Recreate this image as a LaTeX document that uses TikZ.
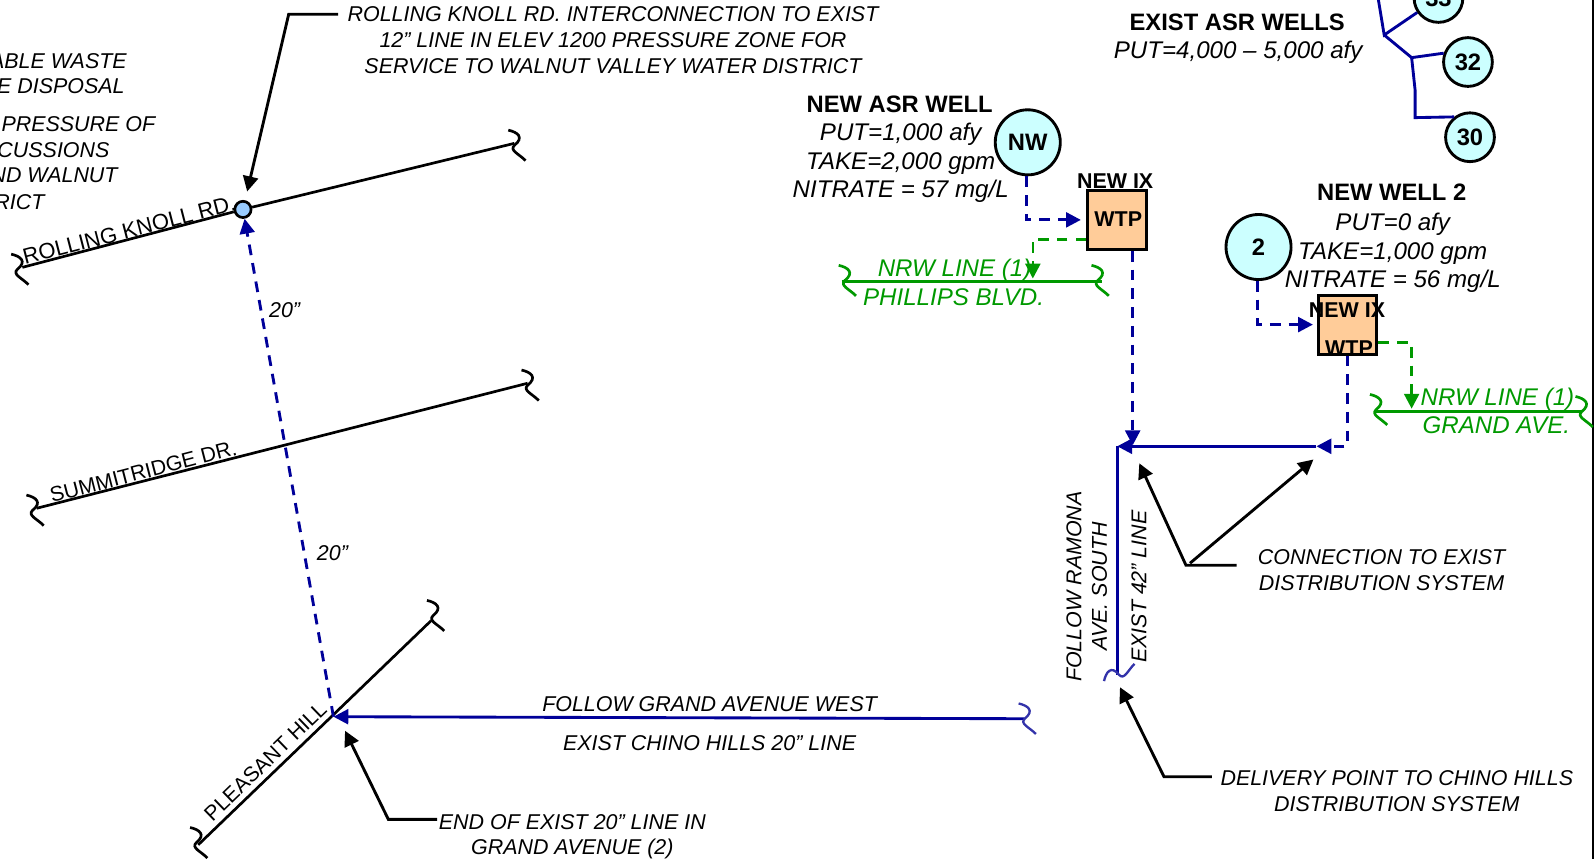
\documentclass[tikz,border=0pt]{standalone}
\usepackage{fontspec}
\setmainfont{Liberation Sans}
\usepackage{tikz}
\usetikzlibrary{arrows.meta, calc}
\definecolor{pipenavy}{RGB}{0, 0, 153}
\definecolor{breaknavy}{RGB}{51, 51, 170}
\definecolor{nrwgreen}{RGB}{0, 153, 0}
\definecolor{wellcyan}{RGB}{204, 255, 255}
\definecolor{wtporange}{RGB}{255, 204, 153}
\definecolor{jointblue}{RGB}{153, 204, 255}
\tikzset{
    breakmark/.pic={\draw[pic actions] (-6,-13) .. controls (3,-11) and (10,-6) .. (0,2) .. controls (-5,7) and (4,10) .. (11,17);},
    roadline/.style={line width=1.5pt, black},
    leader/.style={line width=1.6pt, black, line join=miter},
    leadertip/.style={-{Triangle[length=8.5pt, width=8.5pt]}},
    newpipe/.style={line width=1.6pt, pipenavy, dash pattern=on 6pt off 4.5pt, -{Triangle[length=8.3pt, width=8.3pt]}},
    oldpipe/.style={line width=1.6pt, pipenavy},
    nrwpipe/.style={line width=1.5pt, nrwgreen},
    nrwdrop/.style={line width=1.5pt, nrwgreen, dash pattern=on 6pt off 4.5pt, -{Triangle[length=8.3pt, width=8.3pt]}},
    wellbig/.style={circle, draw=black, line width=1.6pt, fill=wellcyan, minimum size=1.28cm, inner sep=0pt, font=\fontsize{13.3}{15}\selectfont\bfseries},
    wellsmall/.style={wellbig, minimum size=0.96cm},
    wtpbox/.style={rectangle, draw=black, line width=1.7pt, fill=wtporange, minimum size=1.16cm, inner sep=0pt},
    boxlabel/.style={inner sep=0pt, font=\fontsize{12}{14}\selectfont\bfseries},
    note/.style={inner sep=0pt, align=center, font=\fontsize{12}{14.4}\selectfont\itshape},
    wellnote/.style={inner sep=0pt, align=center, font=\fontsize{13.5}{16}\selectfont\itshape},
    wellhead/.style={inner sep=0pt, font=\fontsize{13.3}{16}\selectfont\bfseries},
    roadlabel/.style={inner sep=0pt, font=\fontsize{11.8}{14}\selectfont},
    nrwlabel/.style={inner sep=0pt, text=nrwgreen, font=\fontsize{13.5}{16}\selectfont\itshape},
    cutnote/.style={inner sep=0pt, anchor=east, font=\fontsize{12}{14.4}\selectfont\itshape}
}
\begin{document}
\begin{tikzpicture}[x=0.02cm, y=-0.02cm]
    \useasboundingbox (0,0) rectangle (1568,845);
    \fill[black] (1566,0) rectangle (1568,845);

    % Wells and treatment boxes
    \node[wellbig] (wellnw) at (1011,140) {NW};
    \node[wellbig] (welltwo) at (1238,243) {2};
    \node[wellsmall] (wellc) at (1415,-2) {33};
    \node[wellsmall] (wellb) at (1444,61) {32};
    \node[wellsmall] (wella) at (1446,135) {30};
    \node[wtpbox] (wtpnew) at (1099,216.3) {};
    \node[boxlabel] (wtpnewtext) at (1100,216) {WTP};
    \node[boxlabel] (ixnew) at (1097,178) {NEW IX};
    \node[wtpbox] (wtptwo) at (1325.5,319.3) {};
    \node[boxlabel] (ixtwo) at (1325,305) {NEW IX};
    \node[boxlabel] (wtptwotext) at (1327,342) {WTP};

    % Well text
    \node[wellhead] (existhead) at (1217,22) {EXIST ASR WELLS};
    \node[wellnote] (existput) at (1218,51.5) {PUT=4,000 – 5,000 afy};
    \node[wellhead] (nwhead) at (885,103) {NEW ASR WELL};
    \node[wellnote] (nwnote) at (886,160.5) {PUT=1,000 afy\\TAKE=2,000 gpm\\NITRATE = 57 mg/L};
    \node[wellhead] (twohead) at (1369,189) {NEW WELL 2};
    \node[wellnote] (twonote) at (1370,249) {PUT=0 afy\\TAKE=1,000 gpm\\NITRATE = 56 mg/L};

    % Existing wells tree
    \coordinate (treetop) at (1355.6,-2);
    \coordinate (treec) at (1361.6,34.4);
    \coordinate (treeb) at (1388.6,56.7);
    \coordinate (treea) at (1392,88.5);
    \coordinate (treeturn) at (1392,115.7);
    \draw[oldpipe, line join=miter] (treetop) -- (treec) -- (wellc);
    \draw[oldpipe, line join=miter] (treec) -- (treeb) -- (wellb.160);
    \draw[oldpipe, line join=miter] (treeb) -- (treea) -- (treeturn) -- (wella.128);

    % Roads
    \node[circle, draw=black, line width=1.5pt, fill=jointblue, minimum size=0.32cm, inner sep=0pt] (rkjoint) at (239,206) {};
    \coordinate (rkleft) at (22,263);
    \coordinate (rkright) at (506,141);
    \draw[roadline] (rkleft) -- (rkjoint) -- (rkright);
    \pic[roadline] at ($(rkleft)+(-5,0)$) {breakmark};
    \pic[roadline] at (rkright) {breakmark};
    \node[roadlabel, font=\fontsize{12.3}{14}\selectfont, rotate=14.5] (rklabel) at (127,226.5) {ROLLING KNOLL RD.};

    \coordinate (sdleft) at (36,500);
    \coordinate (sdright) at (519,377);
    \draw[roadline] (sdleft) -- (sdright);
    \pic[roadline] at ($(sdleft)+(-4,0)$) {breakmark};
    \pic[roadline] at (sdright) {breakmark};
    \node[roadlabel, rotate=14.5] (sdlabel) at (141,464) {SUMMITRIDGE DR.};

    \coordinate (phleft) at (195,831);
    \coordinate (phright) at (424,610.6);
    \draw[roadline] (phleft) -- (phright);
    \pic[roadline] at ($(phleft)+(-2,-4)$) {breakmark};
    \pic[roadline] at ($(phright)+(2,-7)$) {breakmark};
    \node[roadlabel, rotate=44] (phlabel) at (261,749) {PLEASANT HILL};

    % Pipeline to Rolling Knoll
    \coordinate (phjoint) at (328,705);
    \coordinate (grandend) at (1008,707);
    \draw[newpipe] (phjoint) -- (rkjoint);
    \draw[oldpipe, -{Triangle[length=8.3pt, width=8.3pt]}] (grandend) -- (phjoint);
    \pic[breaknavy, line width=1.3pt] at ($(grandend)+(0,-2)$) {breakmark};
    \node[note] (sizeone) at (280,305) {20”};
    \node[note] (sizetwo) at (327,544) {20”};
    \node[note] (grandtop) at (698,693) {FOLLOW GRAND AVENUE WEST};
    \node[note] (grandbot) at (698,731) {EXIST CHINO HILLS 20” LINE};

    % Well connections
    \draw[newpipe, shorten >=3pt] (wellnw.268) |- (wtpnew.west);
    \draw[newpipe, shorten >=2pt] (welltwo.268) |- (wtptwo.west);
    \coordinate (joinright) at (1295,439);
    \coordinate (joinleft) at (1099,439);
    \coordinate (joindown) at (1114.2,438);
    \coordinate (ramonaend) at (1099,664);
    \draw[newpipe] (joindown |- wtpnew.south) -- (joindown);
    \draw[newpipe] (wtptwo.south) |- (joinright);
    \draw[oldpipe, -{Triangle[length=8.3pt, width=8.3pt]}] (joinright) -- (joinleft);
    \draw[oldpipe] (joinleft) -- (ramonaend);
    \pic[breaknavy, line width=1.3pt, rotate=90] at (ramonaend) {breakmark};

    % NRW lines
    \coordinate (phillipsleft) at (828,277);
    \coordinate (phillipsright) at (1083.7,277);
    \coordinate (phillipsdrop) at (1016,274);
    \draw[nrwpipe] (phillipsleft) -- (phillipsright);
    \pic[nrwpipe] at ($(phillipsleft)+(3,-3)$) {breakmark};
    \pic[nrwpipe] at ($(phillipsright)+(-4,-3)$) {breakmark};
    \draw[nrwdrop] (wtpnew.212) -| (phillipsdrop);
    \node[nrwlabel] (nrwtop) at (939,265.5) {NRW LINE (1)};
    \node[nrwlabel] (nrwbot) at (938,292) {PHILLIPS BLVD.};

    \coordinate (grandleft) at (1352.6,405);
    \coordinate (grandright) at (1555.8,405);
    \coordinate (granddrop) at (1388.6,402);
    \draw[nrwpipe] (grandleft) -- (grandright);
    \pic[nrwpipe] at ($(grandleft)+(1,-4)$) {breakmark};
    \pic[nrwpipe] at ($(grandright)+(0,-2)$) {breakmark};
    \draw[nrwdrop] (wtptwo.-30) -| (granddrop);
    \node[nrwlabel] (gnrwtop) at (1473,392.5) {NRW LINE (1)};
    \node[nrwlabel] (gnrwbot) at (1472,418) {GRAND AVE.};

    % Callouts
    \node[note] (rknote) at (603,39.5) {ROLLING KNOLL RD. INTERCONNECTION TO EXIST\\12” LINE IN ELEV 1200 PRESSURE ZONE FOR\\SERVICE TO WALNUT VALLEY WATER DISTRICT};
    \coordinate (rkcorner) at (284,14);
    \draw[leader, leadertip, shorten >=5pt] (rknote.west |- rkcorner) ++(-9,0) -- (rkcorner) -- (rkjoint);

    % Texts cut by the left edge
    \node[cutnote] (cuta) at (125,60) {ABLE WASTE};
    \node[cutnote] (cutb) at (123,85) {E DISPOSAL};
    \node[cutnote] (cutc) at (153,122.5) {PRESSURE OF};
    \node[cutnote] (cutd) at (108,147.5) {CUSSIONS};
    \node[cutnote] (cute) at (116,172.5) {ND WALNUT};
    \node[cutnote] (cutf) at (44,198.5) {RICT};

    \node[note] (endnote) at (563,823) {END OF EXIST 20” LINE IN\\GRAND AVENUE (2)};
    \coordinate (endstart) at (430,806);
    \coordinate (endcorner) at (382,806);
    \coordinate (endtip) at (339.4,718.8);
    \draw[leader, leadertip] (endstart) -- (endcorner) -- (endtip);

    \node[note] (delnote) at (1374,778.5) {DELIVERY POINT TO CHINO HILLS\\DISTRIBUTION SYSTEM};
    \coordinate (delstart) at (1192,764);
    \coordinate (delcorner) at (1145,764);
    \coordinate (deltip) at (1101.7,676);
    \draw[leader, leadertip] (delstart) -- (delcorner) -- (deltip);

    \node[note] (connote) at (1359,561) {CONNECTION TO EXIST\\DISTRIBUTION SYSTEM};
    \coordinate (constart) at (1216.5,556);
    \coordinate (concorner) at (1166.6,556);
    \coordinate (contipa) at (1120.7,455.7);
    \coordinate (contipb) at (1292,452);
    \draw[leader, leadertip] (constart) -- (concorner) -- (contipa);
    \draw[leader, leadertip] (concorner) ++(4,-2) -- (contipb);

    % Vertical labels
    \node[note, rotate=90] (ramonatext) at (1069,577) {FOLLOW RAMONA\\AVE. SOUTH};
    \node[note, rotate=90] (existtext) at (1120.5,577) {EXIST 42” LINE};
\end{tikzpicture}
\end{document}
